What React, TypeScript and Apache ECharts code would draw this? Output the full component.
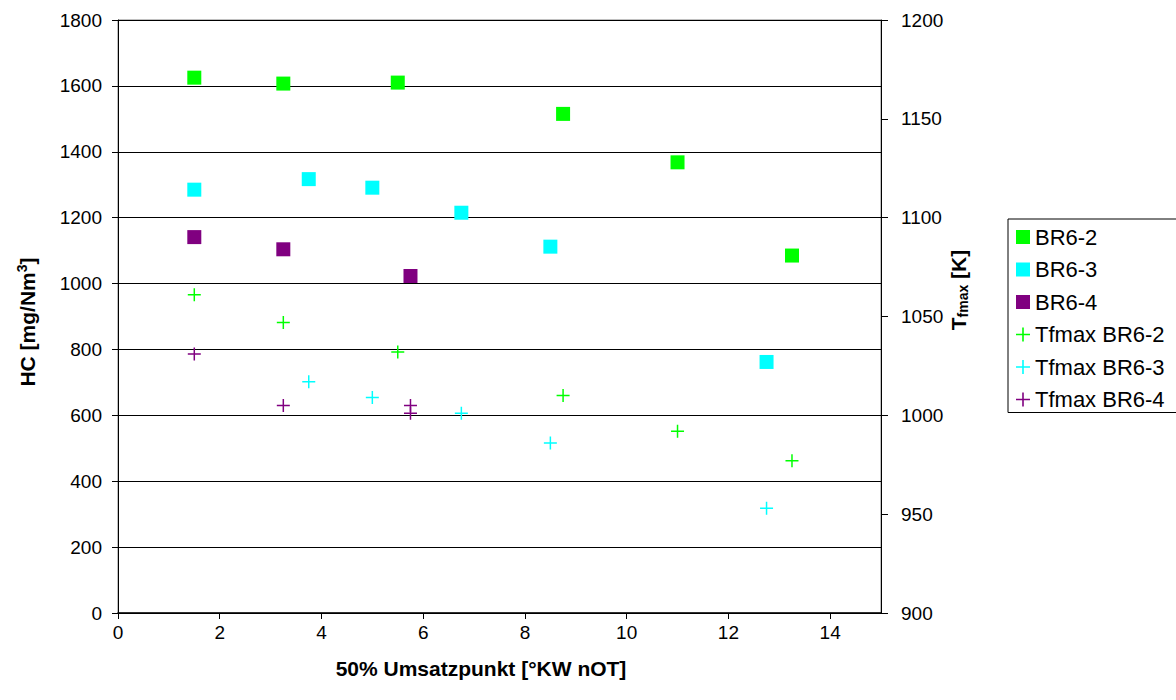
import React, { useEffect, useRef } from "react";
import * as echarts from "echarts";

// HC concentration [mg/Nm3] vs. 50% conversion point [°KW nOT]
const hcX2 = [1.5, 3.25, 5.5, 8.75, 11, 13.25];
const hc2 = [1625, 1607, 1610, 1515, 1368, 1085];
const hcX3 = [1.5, 3.75, 5.0, 6.75, 8.5, 12.75];
const hc3 = [1285, 1317, 1291, 1215, 1112, 762];
const hcX4 = [1.5, 3.25, 5.75];
const hc4 = [1141, 1104, 1023];

// Peak flame temperature Tfmax [K] (right axis)
const tX2 = [1.5, 3.25, 5.5, 8.75, 11, 13.25];
const t2 = [1061, 1047, 1032, 1010, 992, 977];
const tX3 = [3.75, 5.0, 6.75, 8.5, 12.75];
const t3 = [1017, 1009, 1001, 986, 953];
const tX4 = [1.5, 3.25, 5.75, 5.75];
const t4 = [1031, 1005, 1005, 1001];

const seriesNames = ["BR6-2", "BR6-3", "BR6-4", "Tfmax BR6-2", "Tfmax BR6-3", "Tfmax BR6-4"];
const colors = ["#00ff00", "#00ffff", "#800080"];

const FONT = '"Liberation Sans", Arial, sans-serif';
const PLUS = "path://M6.2,0H7.8V6.2H14V7.8H7.8V14H6.2V7.8H0V6.2H6.2Z";

const zip = (xs: number[], ys: number[]) => xs.map((x, i) => [x, ys[i]]);
const plain = (v: number) => String(v);

export default function App() {
  const ref = useRef<HTMLDivElement>(null);

  useEffect(() => {
    if (!ref.current) return;
    const chart = echarts.init(ref.current, null, { renderer: "svg" });

    const squares = (name: string, color: string, data: number[][]) => ({
      name,
      type: "scatter",
      yAxisIndex: 0,
      symbol: "rect",
      symbolSize: 14,
      itemStyle: { color, opacity: 1 },
      data,
    });
    const crosses = (name: string, color: string, data: number[][]) => ({
      name,
      type: "scatter",
      yAxisIndex: 1,
      symbol: PLUS,
      symbolSize: 13,
      itemStyle: { color, opacity: 1 },
      data,
    });

    const axisText = { color: "#000", fontSize: 19, fontFamily: FONT, formatter: plain };

    chart.setOption({
      animation: false,
      backgroundColor: "#fff",
      textStyle: { fontFamily: FONT },
      grid: { left: 118, right: 295, top: 20, bottom: 87, show: true, borderColor: "#808080", borderWidth: 1 },
      xAxis: {
        type: "value",
        min: 0,
        max: 15,
        interval: 2,
        axisLine: { show: true, onZero: false, lineStyle: { color: "#000", width: 1.5 } },
        axisTick: { show: true, length: 6, lineStyle: { color: "#000" } },
        axisLabel: { ...axisText, margin: 10, showMaxLabel: false },
        splitLine: { show: false },
      },
      yAxis: [
        {
          type: "value",
          min: 0,
          max: 1800,
          interval: 200,
          axisLine: { show: true, lineStyle: { color: "#000", width: 1 } },
          axisTick: { show: true, length: 6, lineStyle: { color: "#000" } },
          axisLabel: { ...axisText, margin: 16 },
          splitLine: { show: true, lineStyle: { color: "#000", width: 1 } },
        },
        {
          type: "value",
          position: "right",
          min: 900,
          max: 1200,
          interval: 50,
          axisLine: { show: true, lineStyle: { color: "#000", width: 1 } },
          axisTick: { show: true, length: 7, lineStyle: { color: "#000" } },
          axisLabel: { ...axisText, margin: 20 },
          splitLine: { show: false },
        },
      ],
      legend: {
        orient: "vertical",
        left: 1008,
        top: 219,
        data: seriesNames,
        itemWidth: 14,
        itemHeight: 14,
        itemGap: 10.5,
        padding: [7, 70, 2, 8],
        borderColor: "#000",
        borderWidth: 1,
        textStyle: { color: "#000", fontSize: 22, fontFamily: FONT },
      },
      graphic: [
        {
          type: "text",
          x: 27,
          y: 322,
          rotation: Math.PI / 2,
          style: {
            text: "{b|HC [mg/Nm}{s|3}{b|]}",
            align: "center",
            verticalAlign: "middle",
            fill: "#000",
            rich: {
              b: { fontSize: 21, fontWeight: "bold", fontFamily: FONT, lineHeight: 24, fill: "#000" },
              s: { fontSize: 14, fontWeight: "bold", fontFamily: FONT, lineHeight: 14, verticalAlign: "top", fill: "#000" },
            },
          },
        },
        {
          type: "text",
          x: 958,
          y: 290,
          rotation: Math.PI / 2,
          style: {
            text: "{b|T}{s|fmax}{b| [K]}",
            align: "center",
            verticalAlign: "middle",
            fill: "#000",
            rich: {
              b: { fontSize: 21, fontWeight: "bold", fontFamily: FONT, lineHeight: 24, fill: "#000" },
              s: { fontSize: 14, fontWeight: "bold", fontFamily: FONT, lineHeight: 14, verticalAlign: "bottom", fill: "#000" },
            },
          },
        },
        {
          type: "text",
          x: 481,
          y: 668,
          style: {
            text: "50% Umsatzpunkt [°KW nOT]",
            align: "center",
            verticalAlign: "middle",
            fill: "#000",
            font: `bold 21px ${FONT}`,
          },
        },
      ],
      series: [
        squares(seriesNames[0], colors[0], zip(hcX2, hc2)),
        squares(seriesNames[1], colors[1], zip(hcX3, hc3)),
        squares(seriesNames[2], colors[2], zip(hcX4, hc4)),
        crosses(seriesNames[3], colors[0], zip(tX2, t2)),
        crosses(seriesNames[4], colors[1], zip(tX3, t3)),
        crosses(seriesNames[5], colors[2], zip(tX4, t4)),
      ],
    });

    return () => chart.dispose();
  }, []);

  return (
    <div
      ref={ref}
      style={{ position: "absolute", left: 0, top: 0, width: 1176, height: 700 }}
    />
  );
}
